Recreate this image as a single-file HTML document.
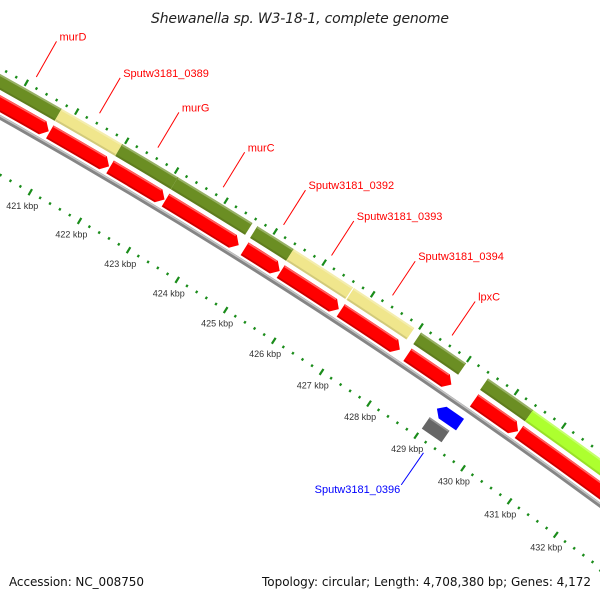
<!DOCTYPE html>
<html>
<head>
<meta charset="utf-8">
<style>
  html,body{margin:0;padding:0;background:#fff;width:600px;height:600px;overflow:hidden;}
  svg{display:block;overflow:hidden;}
  text{font-family:"Liberation Sans","DejaVu Sans",sans-serif;}
</style>
</head>
<body>
<svg id="map" width="600" height="600" viewBox="0 0 600 600" xmlns="http://www.w3.org/2000/svg">
  <rect x="0" y="0" width="600" height="600" fill="#ffffff"/>
  <g id="rulers"></g>
  <g id="tracks"></g>
  <g id="labels"></g>
  <text x="300" y="23" text-anchor="middle" font-size="14" font-style="italic" fill="#222" style="font-family:'DejaVu Sans',sans-serif" textLength="298">Shewanella sp. W3-18-1, complete genome</text>
  <text x="9" y="586" font-size="12" fill="#111" style="font-family:'DejaVu Sans',sans-serif" textLength="135">Accession: NC_008750</text>
  <text x="591" y="586" text-anchor="end" font-size="12" fill="#111" style="font-family:'DejaVu Sans',sans-serif" textLength="329">Topology: circular; Length: 4,708,380 bp; Genes: 4,172</text>
</svg>
<script>
// ---- data (kbp) ----
const fwdStarts = [419.45, 420.75, 421.96, 423.08, 424.69, 425.43, 426.67, 428.06, 429.46, 430.41];
const fwdEnds   = [420.75, 421.96, 423.08, 424.59, 425.43, 426.65, 427.92, 429.00, 430.41, 434.50];
const fwdNames  = ["murD", "Sputw3181_0389", "murG", "murC", "Sputw3181_0392", "Sputw3181_0393", "Sputw3181_0394", "lpxC", "", ""];
const cogColors = ["#6b8e23", "#f0e68c", "#6b8e23", "#6b8e23", "#6b8e23", "#f0e68c", "#f0e68c", "#6b8e23", "#6b8e23", "#adff2f"];
const revStarts = [429.03];
const revEnds   = [429.52];
const revNames  = ["Sputw3181_0396"];
const otherStarts = [429.01];
const otherEnds   = [429.43];
const rulerLabels = [421, 422, 423, 424, 425, 426, 427, 428, 429, 430, 431, 432];

// ---- geometry ----
const CX = -2846, CY = 5178, R0 = 5806;
const A0 = -60.02, DEG_PER_KBP = 0.568;
const NS = "http://www.w3.org/2000/svg";
function ang(k){ return A0 + (k - 421) * DEG_PER_KBP; }
function P(r, k){ const a = ang(k) * Math.PI / 180; return [CX + r * Math.cos(a), CY + r * Math.sin(a)]; }
function f(p){ return p[0].toFixed(2) + " " + p[1].toFixed(2); }
function band(r1, r2, k1, k2){
  return "M" + f(P(r2,k1)) + " A" + r2 + " " + r2 + " 0 0 1 " + f(P(r2,k2)) +
         " L" + f(P(r1,k2)) + " A" + r1 + " " + r1 + " 0 0 0 " + f(P(r1,k1)) + " Z";
}
function fwdArrow(r1, r2, k1, k2, h){
  const kh = Math.max(k1, k2 - h), rm = (r1 + r2) / 2;
  return "M" + f(P(r2,k1)) + " A" + r2 + " " + r2 + " 0 0 1 " + f(P(r2,kh)) +
         " L" + f(P(rm,k2)) + " L" + f(P(r1,kh)) + " A" + r1 + " " + r1 + " 0 0 0 " + f(P(r1,k1)) + " Z";
}
function revArrow(r1, r2, k1, k2, h){
  const kh = Math.min(k2, k1 + h), rm = (r1 + r2) / 2;
  return "M" + f(P(rm,k1)) + " L" + f(P(r2,kh)) + " A" + r2 + " " + r2 + " 0 0 1 " + f(P(r2,k2)) +
         " L" + f(P(r1,k2)) + " A" + r1 + " " + r1 + " 0 0 0 " + f(P(r1,kh)) + " Z";
}
function arcLine(r, k1, k2){ return "M" + f(P(r,k1)) + " A" + r + " " + r + " 0 0 1 " + f(P(r,k2)); }
function mk(tag, parent){ const e = document.createElementNS(NS, tag); parent.appendChild(e); return e; }

const rulers = document.getElementById("rulers");
const tracks = document.getElementById("tracks");
const labels = document.getElementById("labels");

// ---- rulers ----
const rings = [R0 + 43, R0 - 50];
for (let ri = 0; ri < rings.length; ri++) {
  const rc = rings[ri];
  for (let i = 4186; i <= 4334; i += 2) {
    const k = i / 10, long = (i % 10 === 0);
    const len = long ? 3.5 : 1.3;
    const t = mk("path", rulers);
    t.setAttribute("d", "M" + f(P(rc - len, k)) + " L" + f(P(rc + len, k)));
    t.setAttribute("stroke", "#1a8c1a");
    t.setAttribute("stroke-width", "2.2");
    
    
  }
}
for (let i = 0; i < rulerLabels.length; i++) {
  const p = P(R0 - 66, rulerLabels[i]);
  const t = mk("text", rulers);
  t.setAttribute("x", p[0].toFixed(1));
  t.setAttribute("y", (p[1] + 3).toFixed(1));
  t.setAttribute("text-anchor", "middle");
  t.setAttribute("font-size", "9");
  t.setAttribute("fill", "#333");
  t.textContent = rulerLabels[i] + " kbp";
  
  
}

// ---- backbone ----
{
  const b = mk("path", tracks);
  b.setAttribute("d", arcLine(R0, 418, 434));
  b.setAttribute("fill", "none"); b.setAttribute("stroke", "#858585"); b.setAttribute("stroke-width", "4.5");
  
  
  const h = mk("path", tracks);
  h.setAttribute("d", arcLine(R0 + 1.3, 418, 434));
  h.setAttribute("fill", "none"); h.setAttribute("stroke", "#c4c4c4"); h.setAttribute("stroke-width", "1.5");
  
  
}

// ---- forward genes + COG track ----
for (let i = 0; i < fwdStarts.length; i++) {
  const s = fwdStarts[i], e = fwdEnds[i];
  const c = mk("path", tracks);
  c.setAttribute("d", band(R0 + 24, R0 + 38, s, e));
  c.setAttribute("fill", cogColors[i]);
  
  
  const ch = mk("path", tracks);
  ch.setAttribute("d", arcLine(R0 + 37, s + 0.01, e - 0.01));
  ch.setAttribute("fill", "none"); ch.setAttribute("stroke", "rgba(255,255,255,0.3)"); ch.setAttribute("stroke-width", "2");
  
  
  const cd = mk("path", tracks);
  cd.setAttribute("d", arcLine(R0 + 25, s + 0.01, e - 0.01));
  cd.setAttribute("fill", "none"); cd.setAttribute("stroke", "rgba(0,0,0,0.12)"); cd.setAttribute("stroke-width", "2");
  
  

  const a = mk("path", tracks);
  a.setAttribute("d", fwdArrow(R0 + 4.5, R0 + 19.5, s + 0.02, e, 0.12));
  a.setAttribute("fill", "#ff0000");
  
  
  const ah = mk("path", tracks);
  ah.setAttribute("d", arcLine(R0 + 18.5, s + 0.03, e - 0.13));
  ah.setAttribute("fill", "none"); ah.setAttribute("stroke", "rgba(255,140,140,0.7)"); ah.setAttribute("stroke-width", "1.6");
  
  
  const ad = mk("path", tracks);
  ad.setAttribute("d", arcLine(R0 + 5.5, s + 0.03, e - 0.13));
  ad.setAttribute("fill", "none"); ad.setAttribute("stroke", "rgba(150,0,0,0.5)"); ad.setAttribute("stroke-width", "1.6");
  
  

  if (fwdNames[i]) {
    const m = (s + e) / 2;
    const p1 = P(R0 + 53, m), p2 = P(R0 + 94, m);
    const l = mk("path", labels);
    l.setAttribute("d", "M" + f(p1) + " L" + f(p2));
    l.setAttribute("stroke", "#ff0000"); l.setAttribute("stroke-width", "1");
    
    
    const t = mk("text", labels);
    t.setAttribute("x", (p2[0] + 3).toFixed(1));
    t.setAttribute("y", (p2[1] - 1).toFixed(1));
    t.setAttribute("font-size", "11");
    t.setAttribute("fill", "#ff0000");
    t.textContent = fwdNames[i];
    
    
  }
}

// ---- reverse genes ----
for (let i = 0; i < revStarts.length; i++) {
  const s = revStarts[i], e = revEnds[i];
  const a = mk("path", tracks);
  a.setAttribute("d", revArrow(R0 - 23, R0 - 9, s, e, 0.12));
  a.setAttribute("fill", "#0000ff");
  
  
  const m = (s + e) / 2;
  const p1 = P(R0 - 60, m), p2 = P(R0 - 99, m);
  const l = mk("path", labels);
  l.setAttribute("d", "M" + f(p1) + " L" + f(p2));
  l.setAttribute("stroke", "#0000ff"); l.setAttribute("stroke-width", "1");
  
  
  const t = mk("text", labels);
  t.setAttribute("x", (p2[0] - 1).toFixed(1));
  t.setAttribute("y", (p2[1] + 8).toFixed(1));
  t.setAttribute("text-anchor", "end");
  t.setAttribute("font-size", "11");
  t.setAttribute("fill", "#0000ff");
  t.textContent = revNames[i];
  
  
}

// ---- other features ----
for (let i = 0; i < otherStarts.length; i++) {
  const b = mk("path", tracks);
  b.setAttribute("d", band(R0 - 41, R0 - 27, otherStarts[i], otherEnds[i]));
  b.setAttribute("fill", "#666666");
  
  
  const h = mk("path", tracks);
  h.setAttribute("d", arcLine(R0 - 28, otherStarts[i] + 0.01, otherEnds[i] - 0.01));
  h.setAttribute("fill", "none"); h.setAttribute("stroke", "rgba(255,255,255,0.3)"); h.setAttribute("stroke-width", "1.6");
  
  
}
</script>
</body>
</html>
